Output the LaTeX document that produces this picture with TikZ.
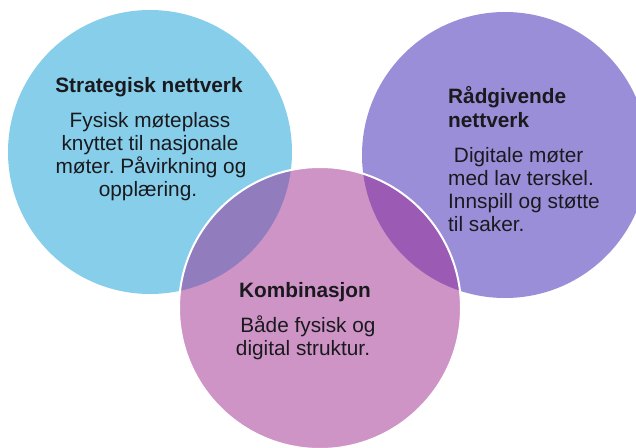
\documentclass[tikz,border=0pt]{standalone}
\usepackage{fontspec}
\setmainfont{Liberation Sans}
\frenchspacing
\definecolor{cblue}{RGB}{135,206,234}
\definecolor{cpurple}{RGB}{155,142,216}
\definecolor{cpink}{RGB}{206,148,198}
\definecolor{covA}{RGB}{145,125,190}
\definecolor{covB}{RGB}{155,90,180}
\definecolor{ctext}{RGB}{26,26,30}
\tikzset{
  txt/.style={font=\fontsize{20.8}{23}\selectfont, text=ctext, inner sep=0pt},
  head/.style={txt, font=\fontsize{20.8}{23}\selectfont\bfseries},
}
\begin{document}
\begin{tikzpicture}[x=1pt,y=-1pt]
\useasboundingbox (0,0) rectangle (636,447);
% circles
\fill[cblue] (150,152) circle[radius=142pt];
\fill[cpurple] (505,155) circle[radius=143pt];
\fill[cpink] (320,308) circle[radius=141pt];
\begin{scope}
  \clip (320,308) circle[radius=141pt];
  \fill[covA] (150,152) circle[radius=142pt];
  \fill[covB] (505,155) circle[radius=143pt];
\end{scope}
\draw[white, line width=2pt] (320,308) circle[radius=141pt];
% blue text
\node[head, anchor=base] (s0) at (149,92) {Strategisk nettverk};
\node[txt, anchor=base] (s1) at (150,127) {Fysisk møteplass};
\node[txt, anchor=base] (s2) at (150,150) {knyttet til nasjonale};
\node[txt, anchor=base] (s3) at (151,173) {møter. Påvirkning og};
\node[txt, anchor=base] (s4) at (148,196) {opplæring.};
% purple text
\node[head, anchor=base west] (r0) at (448,103) {Rådgivende};
\node[head, anchor=base west] (r1) at (448,127) {nettverk};
\node[txt, anchor=base west] (r2) at (448,162) {\ Digitale møter};
\node[txt, anchor=base west] (r3) at (448,185) {med lav terskel.};
\node[txt, anchor=base west] (r4) at (448,208) {Innspill og støtte};
\node[txt, anchor=base west] (r5) at (448,231) {til saker.};
% pink text
\node[head, anchor=base] (k0) at (305,297) {Kombinasjon};
\node[txt, anchor=base] (k1) at (305,332) {\ Både fysisk og};
\node[txt, anchor=base] (k2) at (303,355) {digital struktur.};
\end{tikzpicture}
\end{document}
